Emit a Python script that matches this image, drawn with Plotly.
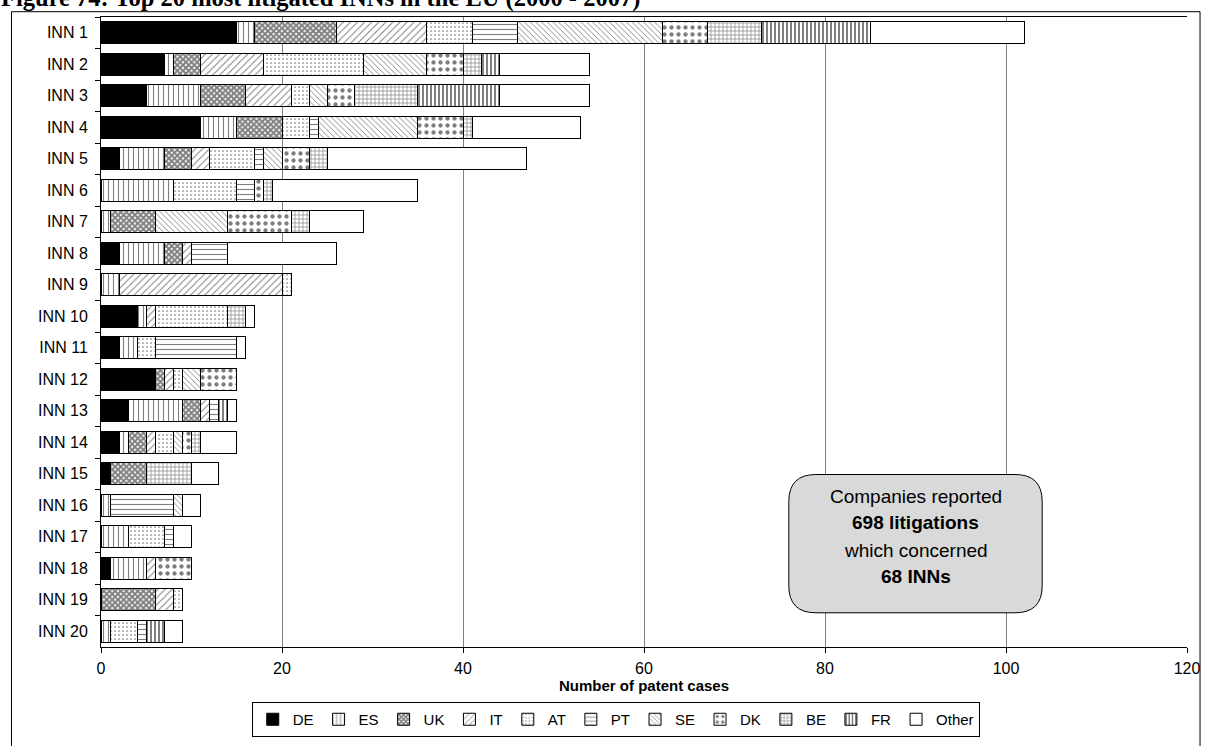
import plotly.graph_objects as go

inns = ["INN 1", "INN 2", "INN 3", "INN 4", "INN 5", "INN 6", "INN 7", "INN 8", "INN 9", "INN 10",
        "INN 11", "INN 12", "INN 13", "INN 14", "INN 15", "INN 16", "INN 17", "INN 18", "INN 19", "INN 20"]

DE = [15, 7, 5, 11, 2, 0, 0, 2, 0, 4, 2, 6, 3, 2, 1, 0, 0, 1, 0, 0]
ES = [2, 1, 6, 4, 5, 8, 1, 5, 2, 1, 2, 0, 6, 1, 0, 1, 3, 4, 0, 1]
UK = [9, 3, 5, 5, 3, 0, 5, 2, 0, 0, 0, 1, 2, 2, 4, 0, 0, 0, 6, 0]
IT = [10, 7, 5, 0, 2, 0, 0, 1, 18, 1, 0, 1, 1, 1, 0, 0, 0, 1, 2, 0]
AT = [5, 11, 2, 3, 5, 7, 0, 0, 1, 8, 2, 1, 0, 2, 0, 0, 4, 0, 1, 3]
PT = [5, 0, 0, 1, 1, 2, 0, 4, 0, 0, 9, 0, 1, 0, 0, 7, 1, 0, 0, 1]
SE = [16, 7, 2, 11, 2, 0, 8, 0, 0, 0, 0, 2, 0, 1, 0, 1, 0, 0, 0, 0]
DK = [5, 4, 3, 5, 3, 1, 7, 0, 0, 0, 0, 4, 0, 1, 0, 0, 0, 4, 0, 0]
BE = [6, 2, 7, 1, 2, 1, 2, 0, 0, 2, 0, 0, 0, 1, 5, 0, 0, 0, 0, 0]
FR = [12, 2, 9, 0, 0, 0, 0, 0, 0, 0, 0, 0, 1, 0, 0, 0, 0, 0, 0, 2]
Other = [17, 10, 10, 12, 22, 16, 6, 12, 0, 1, 1, 0, 1, 4, 3, 2, 2, 0, 0, 2]

series = [("DE", DE), ("ES", ES), ("UK", UK), ("IT", IT), ("AT", AT), ("PT", PT),
          ("SE", SE), ("DK", DK), ("BE", BE), ("FR", FR), ("Other", Other)]

# hatch look per country: (shape, size, solidity)
hatch = {
    "DE": ("", 8, 0.3),
    "ES": ("|", 5, 0.22),
    "UK": ("x", 4, 0.72),
    "IT": ("/", 5, 0.2),
    "AT": (".", 4, 0.15),
    "PT": ("-", 5, 0.22),
    "SE": ("\\", 4, 0.22),
    "DK": (".", 7, 0.3),
    "BE": ("+", 4, 0.3),
    "FR": ("|", 4, 0.5),
    "Other": ("", 8, 0.3),
}

fig = go.Figure()
for name, vals in series:
    shp, sz, sol = hatch[name]
    col = "black" if name == "DE" else "white"
    fig.add_trace(go.Bar(
        name=name, y=inns, x=[v if v else None for v in vals], orientation="h",
        marker=dict(color=col, line=dict(color="black", width=1),
                    pattern=dict(shape=shp, size=sz, solidity=sol, fgcolor="black", bgcolor=col)),
    ))

font = "Liberation Sans, Arial, sans-serif"
fig.update_layout(
    barmode="stack", bargap=0.31,
    width=1209, height=746,
    margin=dict(l=101, r=22, t=17, b=99, autoexpand=False),
    paper_bgcolor="white", plot_bgcolor="white",
    font=dict(family=font, size=16, color="black"),
    legend=dict(orientation="h", x=0.1388, xanchor="left", y=-(702 - 647) / 630, yanchor="top",
                bordercolor="black", borderwidth=1, font=dict(size=15), traceorder="normal"),
)
fig.update_xaxes(range=[0, 120], dtick=20, showgrid=True, gridcolor="#808080", gridwidth=1,
                 showline=True, linecolor="black", mirror=True, ticks="outside", ticklen=5,
                 tickcolor="black", zeroline=False, tickfont=dict(size=16), ticklabelstandoff=2,
                 automargin=False)
fig.update_yaxes(autorange="reversed", showline=True, linecolor="black", ticks="outside",
                 ticklen=5, tickcolor="black", tickson="boundaries", ticklabelstandoff=9,
                 tickfont=dict(size=16), showgrid=False, automargin=False)

fig.add_annotation(text="<b>Number of patent cases</b>", xref="paper", yref="paper",
                   x=0.5, y=(647 - 685) / 630, xanchor="center", yanchor="middle",
                   showarrow=False, font=dict(size=15))

fig.add_annotation(text="<b>Figure 74: Top 20 most litigated INNs in the EU (2000 - 2007)</b>",
                   xref="paper", yref="paper", x=-0.094, y=1.0054, xanchor="left", yanchor="bottom",
                   showarrow=False, font=dict(family="Liberation Serif, Times New Roman, serif", size=24.5))

# outer frame
fig.add_shape(type="rect", xref="paper", yref="paper", x0=-0.0824, x1=1.012, y0=-0.2, y1=1.0084,
              line=dict(color="black", width=1), layer="below")

# rounded info box
x0, x1, y0, y1, rx, ry = 76.0, 104.0, 0.0543, 0.2738, 3.0, 0.043
path = (f"M{x0 + rx},{y0} L{x1 - rx},{y0} Q{x1},{y0} {x1},{y0 + ry} L{x1},{y1 - ry} "
        f"Q{x1},{y1} {x1 - rx},{y1} L{x0 + rx},{y1} Q{x0},{y1} {x0},{y1 - ry} "
        f"L{x0},{y0 + ry} Q{x0},{y0} {x0 + rx},{y0} Z")
fig.add_shape(type="path", path=path, xref="x", yref="paper", fillcolor="#d9d9d9",
              line=dict(color="black", width=1))
box_lines = [("Companies reported", 0.2394, False), ("698 litigations", 0.1971, True),
             ("which concerned", 0.1532, False), ("68 INNs", 0.1124, True)]
for t, yy, bold in box_lines:
    fig.add_annotation(text=f"<b>{t}</b>" if bold else t, xref="x", yref="paper", x=90.0, y=yy,
                       xanchor="center", yanchor="middle", showarrow=False, font=dict(size=19))

fig.write_html("out.html", config={"displayModeBar": False},
               post_script="document.body.style.margin='0';")
